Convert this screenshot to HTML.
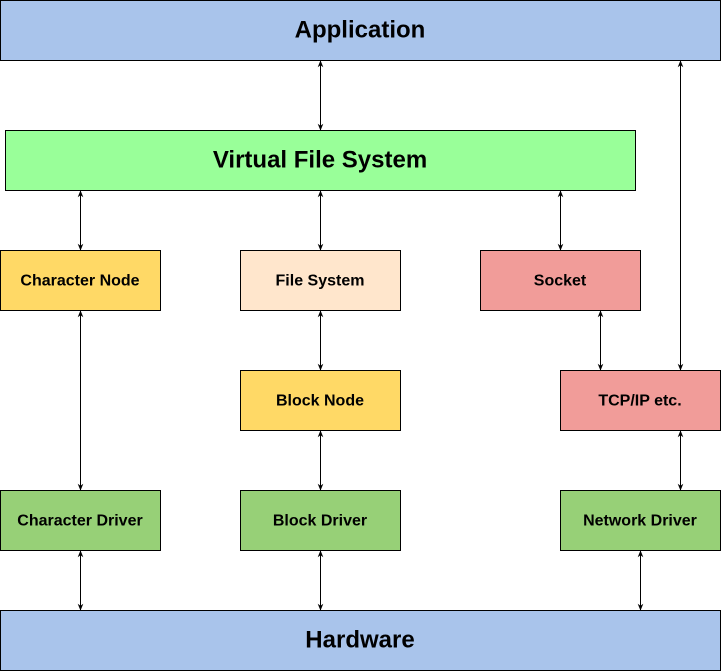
<!DOCTYPE html>
<html><head><meta charset="utf-8"><style>
html,body{margin:0;padding:0;background:#fff;}
svg{display:block;}
text{font-family:"Liberation Sans",sans-serif;font-weight:bold;fill:#000;text-anchor:middle;dominant-baseline:central;}
</style></head><body>
<svg width="721" height="671" viewBox="0 0 721 671" xmlns="http://www.w3.org/2000/svg">
<defs>
<marker id="a" viewBox="0 0 10 10" refX="9" refY="5" markerWidth="7" markerHeight="7" orient="auto-start-reverse">
<path d="M0,1 L10,5 L0,9 L3,5 z" fill="#000"/>
</marker>
</defs>
<g stroke="#000" stroke-width="1">
<rect x="0.5" y="0.5" width="720" height="60" fill="#A9C4EB"/>
<rect x="5.5" y="130.5" width="630" height="60" fill="#99FF99"/>
<rect x="0.5" y="250.5" width="160" height="60" fill="#FFD966"/>
<rect x="240.5" y="250.5" width="160" height="60" fill="#FFE6CC"/>
<rect x="480.5" y="250.5" width="160" height="60" fill="#F19C99"/>
<rect x="240.5" y="370.5" width="160" height="60" fill="#FFD966"/>
<rect x="560.5" y="370.5" width="160" height="60" fill="#F19C99"/>
<rect x="0.5" y="490.5" width="160" height="60" fill="#97D077"/>
<rect x="240.5" y="490.5" width="160" height="60" fill="#97D077"/>
<rect x="560.5" y="490.5" width="160" height="60" fill="#97D077"/>
<rect x="0.5" y="610.5" width="720" height="60" fill="#A9C4EB"/>
</g>
<g stroke="#000" stroke-width="1" marker-start="url(#a)" marker-end="url(#a)">
<line x1="320.5" y1="61" x2="320.5" y2="130"/>
<line x1="680.5" y1="61" x2="680.5" y2="370"/>
<line x1="80.5" y1="191" x2="80.5" y2="250"/>
<line x1="320.5" y1="191" x2="320.5" y2="250"/>
<line x1="560.5" y1="191" x2="560.5" y2="250"/>
<line x1="80.5" y1="311" x2="80.5" y2="490"/>
<line x1="320.5" y1="311" x2="320.5" y2="370"/>
<line x1="600.5" y1="311" x2="600.5" y2="370"/>
<line x1="320.5" y1="431" x2="320.5" y2="490"/>
<line x1="680.5" y1="431" x2="680.5" y2="490"/>
<line x1="80.5" y1="551" x2="80.5" y2="610"/>
<line x1="320.5" y1="551" x2="320.5" y2="610"/>
<line x1="640.5" y1="551" x2="640.5" y2="610"/>
</g>
<text x="360" y="30" font-size="24">Application</text>
<text x="320" y="160" font-size="24">Virtual File System</text>
<text x="80" y="281" font-size="16">Character Node</text>
<text x="320" y="281" font-size="16">File System</text>
<text x="560" y="281" font-size="16">Socket</text>
<text x="320" y="401" font-size="16">Block Node</text>
<text x="640" y="401" font-size="16">TCP/IP etc.</text>
<text x="80" y="521" font-size="16">Character Driver</text>
<text x="320" y="521" font-size="16">Block Driver</text>
<text x="640" y="521" font-size="16">Network Driver</text>
<text x="360" y="640" font-size="24">Hardware</text>
</svg>
</body></html>
